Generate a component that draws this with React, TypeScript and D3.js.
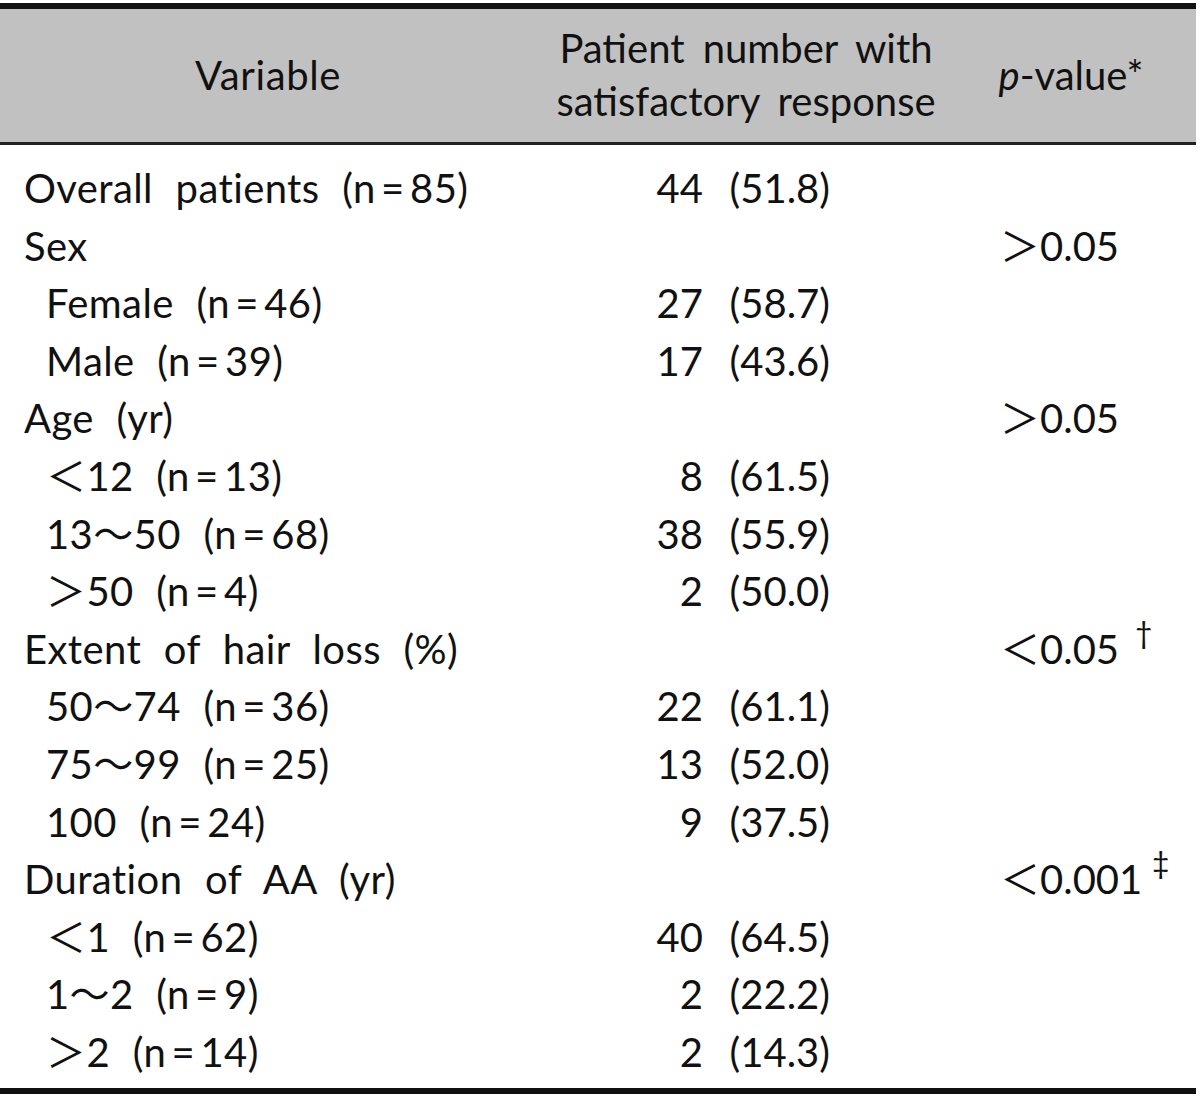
import React from "react";
import * as d3 from "d3";

const EQ = "\u2009=\u2009";
const variables = [
  `Overall patients (n${EQ}85)`,
  "Sex",
  `Female (n${EQ}46)`,
  `Male (n${EQ}39)`,
  "Age (yr)",
  `＜12 (n${EQ}13)`,
  `13～50 (n${EQ}68)`,
  `＞50 (n${EQ}4)`,
  "Extent of hair loss (%)",
  `50～74 (n${EQ}36)`,
  `75～99 (n${EQ}25)`,
  `100 (n${EQ}24)`,
  "Duration of AA (yr)",
  `＜1 (n${EQ}62)`,
  `1～2 (n${EQ}9)`,
  `＞2 (n${EQ}14)`,
];
const indented = [false, false, true, true, false, true, true, true, false, true, true, true, false, true, true, true];
const counts = ["44", "", "27", "17", "", "8", "38", "2", "", "22", "13", "9", "", "40", "2", "2"];
const percents = ["51.8", "", "58.7", "43.6", "", "61.5", "55.9", "50.0", "", "61.1", "52.0", "37.5", "", "64.5", "22.2", "14.3"];
const pValues = ["", "＞0.05", "", "", "＞0.05", "", "", "", "＜0.05", "", "", "", "＜0.001", "", "", ""];
const pMarks = ["", "", "", "", "", "", "", "", "†", "", "", "", "‡", "", "", ""];
const headers = ["Variable", "Patient number with", "satisfactory response", "p-value*"];

const W = 1200;
const H = 1101;
const FONT = "Lato, 'Noto Sans CJK JP', sans-serif";
const FS = 40;

export default function App() {
  const y = d3.scalePoint<number>().domain(d3.range(variables.length)).range([203, 1067]);
  return (
    <svg width={W} height={H} style={{ position: "absolute", left: 0, top: 0 }} fontFamily={FONT} fontSize={FS} fill="#111">
      <rect x={0} y={0} width={W} height={H} fill="#fff" />
      <rect x={0} y={8} width={1196} height={135} fill="#c1c1c1" />
      <rect x={0} y={3} width={1196} height={6} fill="#111" />
      <rect x={0} y={142} width={1196} height={3} fill="#222" />
      <rect x={0} y={1088} width={1196} height={6} fill="#111" />
      <text x={268} y={90} textAnchor="middle" style={{ letterSpacing: "0.6px" }}>{headers[0]}</text>
      <text x={746} y={63} textAnchor="middle" style={{ wordSpacing: "8px" }}>{headers[1]}</text>
      <text x={746} y={116} textAnchor="middle" style={{ wordSpacing: "8px" }}>{headers[2]}</text>
      <text x={1071} y={90} textAnchor="middle">
        <tspan fontStyle="italic">p</tspan>
        <tspan>-value*</tspan>
      </text>
      {variables.map((v, i) => {
        const yy = y(i) as number;
        return (
          <g key={i}>
            <text x={indented[i] ? 46 : 24} y={yy} style={{ wordSpacing: "12px", letterSpacing: "0.4px" }}>{v}</text>
            {counts[i] && <text x={703} y={yy} textAnchor="end">{counts[i]}</text>}
            {percents[i] && <text x={830} y={yy} textAnchor="end">({percents[i]})</text>}
            {pValues[i] && <text x={1000} y={yy}>{pValues[i]}</text>}
            {pMarks[i] && (
              <text x={pValues[i].length > 5 ? 1152 : 1135} y={yy - 20} fontSize={30}>{pMarks[i]}</text>
            )}
          </g>
        );
      })}
    </svg>
  );
}
